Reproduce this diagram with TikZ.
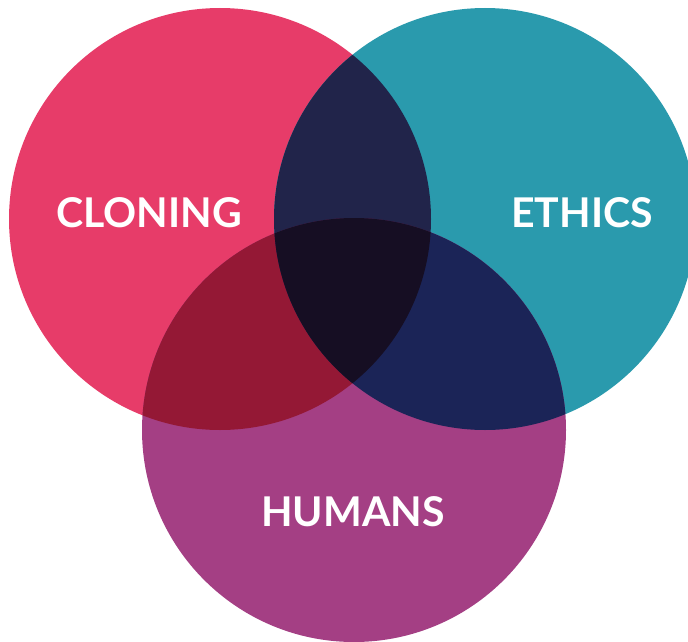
\documentclass[tikz,border=0pt]{standalone}
\usepackage{fontspec}
\setmainfont{Lato}
\definecolor{cloningred}{HTML}{E73C69}
\definecolor{ethicsteal}{HTML}{2A9AAD}
\definecolor{humanspurple}{HTML}{A43F84}
\definecolor{clethnavy}{HTML}{21244A}
\definecolor{clhumred}{HTML}{941835}
\definecolor{ethhumblue}{HTML}{1B2457}
\definecolor{allblack}{HTML}{160E23}

\begin{document}
\begin{tikzpicture}[x=1pt, y=-1pt,
	setname/.style={text=white, font=\bfseries\fontsize{41}{41}\selectfont}]
	\useasboundingbox (0,0) rectangle (688,642);
	\clip (0,0) rectangle (688,642);
	\def\cloningcircle{(220,219) circle (211pt)}
	\def\ethicscircle{(485,219) circle (211pt)}
	\def\humanscircle{(354,430) circle (212pt)}
	% the three sets
	\fill[cloningred] \cloningcircle;
	\fill[ethicsteal] \ethicscircle;
	\fill[humanspurple] \humanscircle;
	% two by two
	\begin{scope}
		\clip \cloningcircle;
		\fill[clethnavy] \ethicscircle;
		\fill[clhumred] \humanscircle;
	\end{scope}
	\begin{scope}
		\clip \ethicscircle;
		\fill[ethhumblue] \humanscircle;
	\end{scope}
	% all three
	\begin{scope}
		\clip \cloningcircle;
		\clip \ethicscircle;
		\fill[allblack] \humanscircle;
	\end{scope}
	\node (cloning) at (149,213) [setname] {CLONING};
	\node (ethics) at (582,213) [setname] {ETHICS};
	\node (humans) at (353,512) [setname] {HUMANS};
\end{tikzpicture}
\end{document}
